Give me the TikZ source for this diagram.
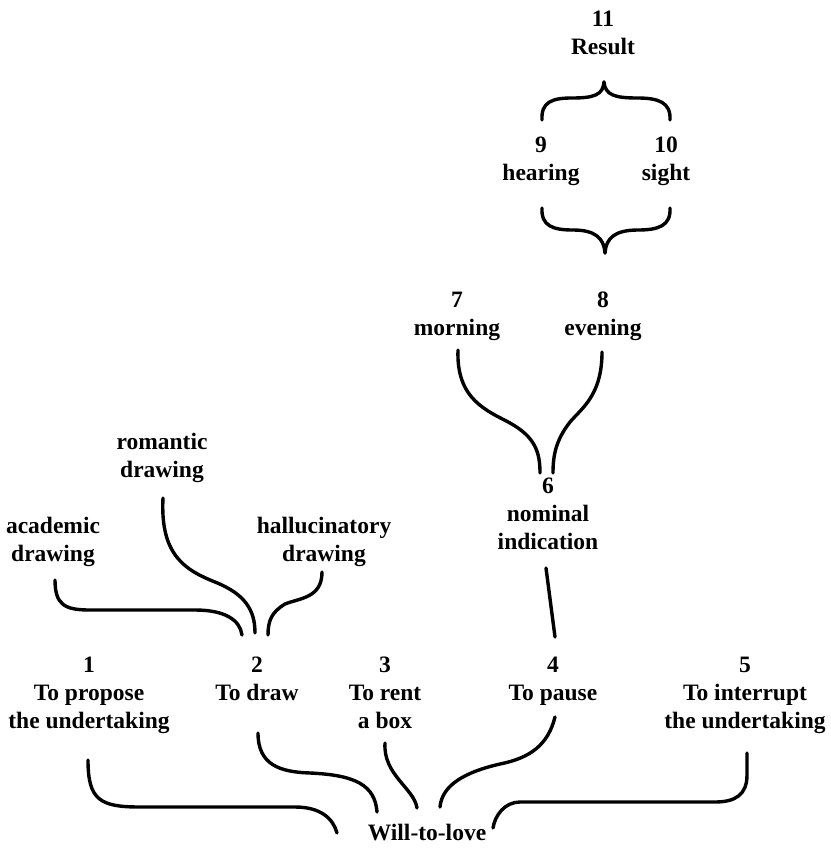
\documentclass[tikz,border=0pt]{standalone}
\usepackage{fontspec}
\setmainfont{Liberation Serif}
\begin{document}
\begin{tikzpicture}[x=1pt,y=-1pt,
  lbl/.style={font=\fontsize{23.5}{28}\selectfont\bfseries, align=center, inner sep=0pt, anchor=north},
  conn/.style={line width=3.4pt, line cap=round, line join=round}]
\useasboundingbox (0,0) rectangle (830,848);
% labels
\node[lbl] (n11) at (603,11) {11\\Result};
\node[lbl] (n9) at (541,137) {9\\hearing};
\node[lbl] (n10) at (666,137) {10\\sight};
\node[lbl] (n7) at (457,292) {7\\morning};
\node[lbl] (n8) at (603,292) {8\\evening};
\node[lbl] (n6) at (548,478) {6\\nominal\\indication};
\node[lbl] (rom) at (162,433) {romantic\\drawing};
\node[lbl] (aca) at (53,517) {academic\\drawing};
\node[lbl] (hal) at (324,517) {hallucinatory\\drawing};
\node[lbl] (n1) at (89,657) {1\\To propose\\the undertaking};
\node[lbl] (n2) at (257,657) {2\\To draw};
\node[lbl] (n3) at (385,657) {3\\To rent\\a box};
\node[lbl] (n4) at (553,657) {4\\To pause};
\node[lbl] (n5) at (745,657) {5\\To interrupt\\the undertaking};
\node[lbl] (will) at (427,824) {Will-to-love};
% connector end points
\coordinate (b1l) at (542,120);
\coordinate (b1r) at (670,120);
\coordinate (b1c) at (604,82);
\coordinate (b2l) at (542,208);
\coordinate (b2r) at (670,208);
\coordinate (b2c) at (605,253);
\coordinate (m7) at (458,350);
\coordinate (m8) at (602,352);
\coordinate (m6a) at (540,473);
\coordinate (m6b) at (553,473);
\coordinate (s6) at (546,568);
\coordinate (t4) at (555,637);
\coordinate (sa) at (55,580);
\coordinate (sr) at (163,498);
\coordinate (sh) at (322,572);
\coordinate (ea) at (242,635);
\coordinate (er) at (255,633);
\coordinate (eh) at (268,635);
\coordinate (s1) at (88,760);
\coordinate (s2) at (258,733);
\coordinate (s3) at (385,743);
\coordinate (s4) at (555,717);
\coordinate (s5) at (747,753);
\coordinate (w1) at (337,833);
\coordinate (w2) at (377,812);
\coordinate (w3) at (417,808);
\coordinate (w4) at (440,807);
\coordinate (w5) at (493,828);
% upper brace
\draw[conn] (b1l) .. controls (541,102) and (552,98) .. (572,98)
  .. controls (594,98) and (603,95) .. (b1c);
\draw[conn] (b1r) .. controls (671,102) and (658,98) .. (637,98)
  .. controls (615,98) and (605,95) .. (b1c);
% lower brace
\draw[conn] (b2l) .. controls (541,226) and (553,230) .. (573,230)
  .. controls (595,230) and (604,238) .. (b2c);
\draw[conn] (b2r) .. controls (671,226) and (658,230) .. (638,230)
  .. controls (615,230) and (606,238) .. (b2c);
% morning / evening to 6
\draw[conn] (m7) .. controls (456,400) and (488,411) .. (510,423)
  .. controls (535,437) and (540,452) .. (m6a);
\draw[conn] (m8) .. controls (602,395) and (582,408) .. (570,422)
  .. controls (556,440) and (553,455) .. (m6b);
% 6 to 4
\draw[conn] (s6) -- (t4);
% drawings to 2
\draw[conn] (sa) .. controls (55,605) and (65,610) .. (90,610) -- (195,610)
  .. controls (225,610) and (240,620) .. (ea);
\draw[conn] (sr) .. controls (160,555) and (185,570) .. (215,582)
  .. controls (245,594) and (255,610) .. (er);
\draw[conn] (sh) .. controls (322,598) and (300,598) .. (285,604)
  .. controls (272,612) and (268,620) .. (eh);
% 1..5 to Will-to-love
\draw[conn] (s1) .. controls (88,800) and (100,807) .. (140,807) -- (295,807)
  .. controls (320,807) and (333,818) .. (w1);
\draw[conn] (s2) .. controls (258,765) and (280,772) .. (310,773)
  .. controls (355,775) and (375,785) .. (w2);
\draw[conn] (s3) .. controls (383,775) and (414,788) .. (w3);
\draw[conn] (s4) .. controls (548,745) and (530,758) .. (500,764)
  .. controls (465,772) and (442,785) .. (w4);
\draw[conn] (s5) -- (747,775) .. controls (747,795) and (735,802) .. (715,802)
  -- (520,802) .. controls (505,802) and (495,815) .. (w5);
\end{tikzpicture}
\end{document}
